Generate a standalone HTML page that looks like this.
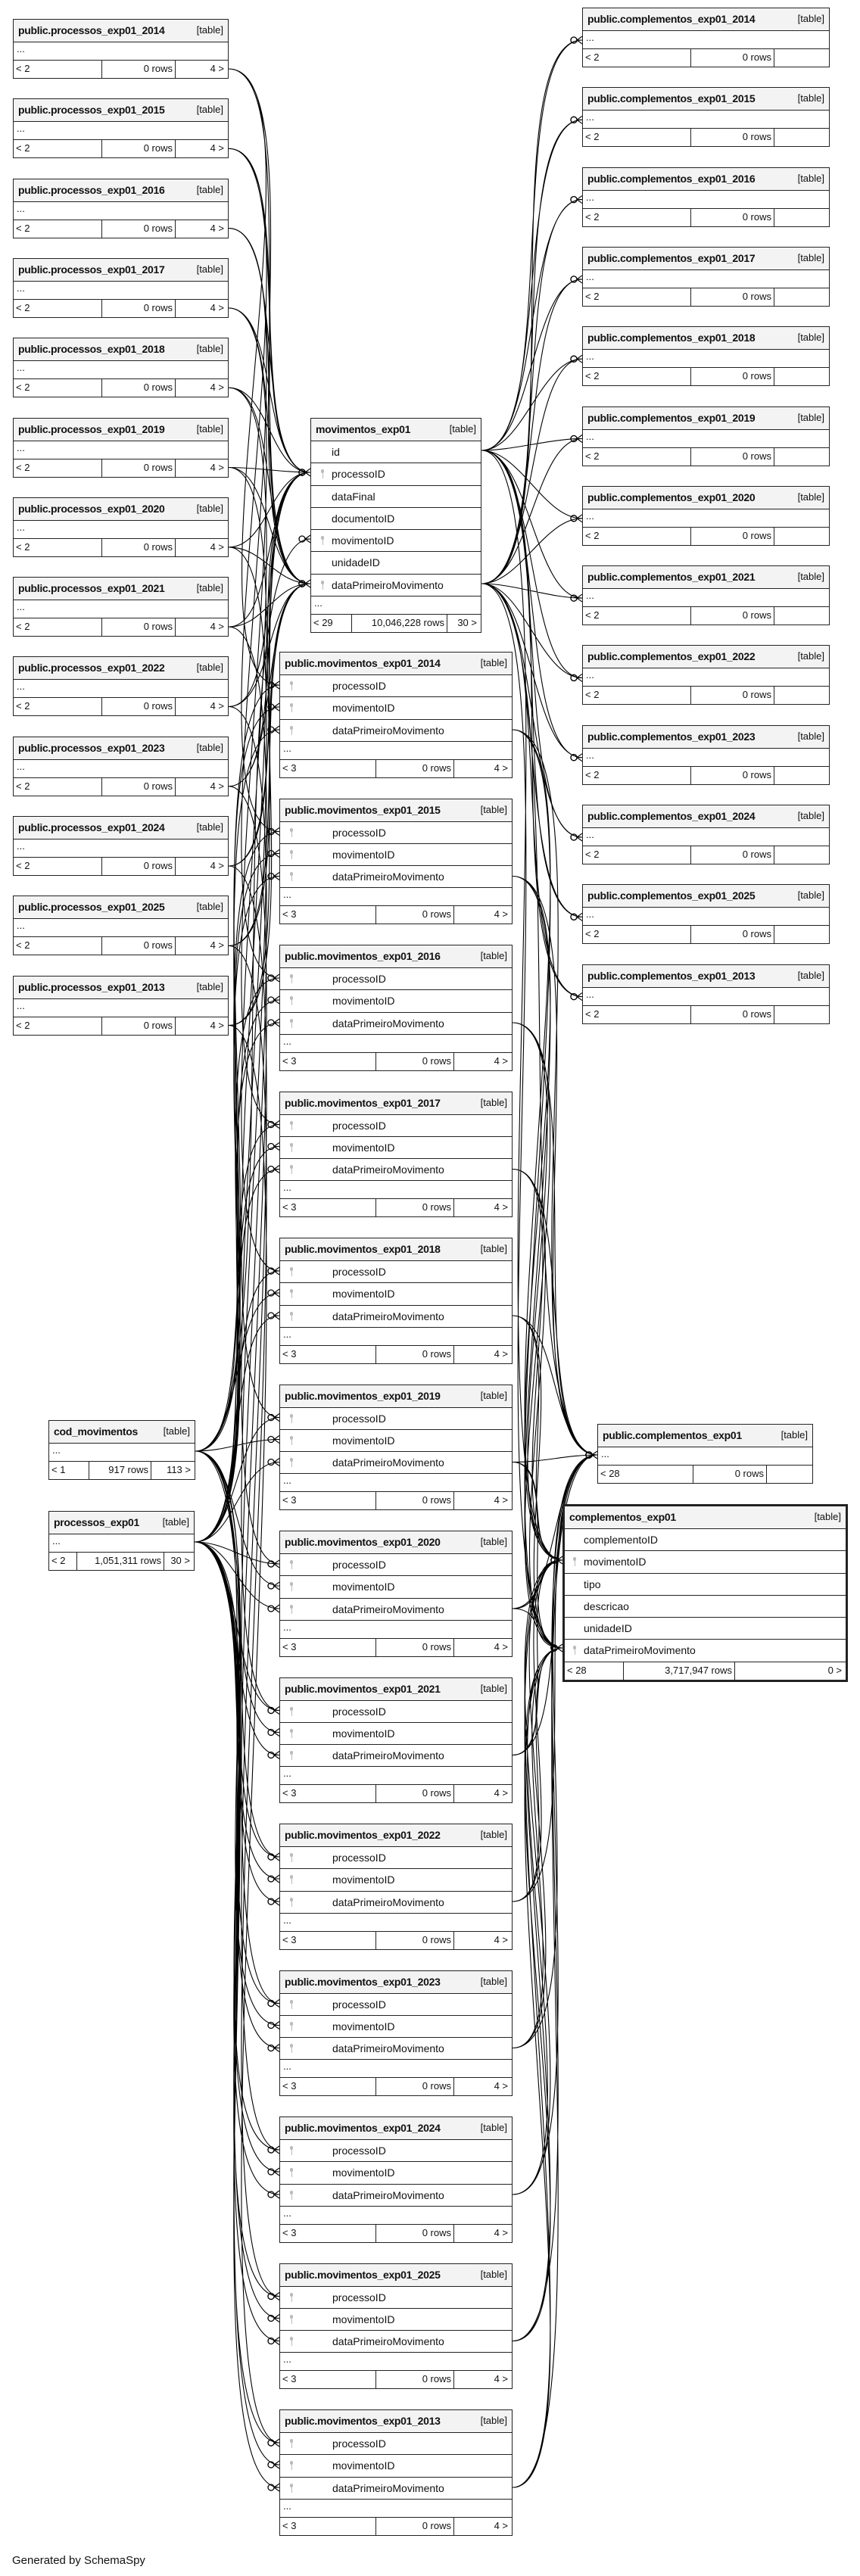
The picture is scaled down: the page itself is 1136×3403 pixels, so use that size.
<!DOCTYPE html>
<html><head><meta charset="utf-8">
<style>
html,body{margin:0;padding:0;background:#fff;}
body{width:1136px;height:3403px;position:relative;overflow:hidden;font-family:"Liberation Sans",sans-serif;color:#111;}
.t{position:absolute;border:1.5px solid #222;box-sizing:border-box;background:#fff;}
.t>div{position:relative;box-sizing:border-box;border-top:1.5px solid #222;white-space:nowrap;}
.t>div:first-child{border-top:none;}
.h{height:29px;background:#f3f3f3;font-size:14px;line-height:28px;padding-left:6px;}
.h b{letter-spacing:-0.3px}
.h span{position:absolute;right:6px;top:0;font-size:13px;}
.r{height:29.3px;font-size:14px;line-height:28px;}
.r span{position:absolute;top:0;}
.k{position:absolute;top:8px;width:4px;height:5px;border-radius:3px;background:#bbb;}
.k:after{content:"";position:absolute;left:1.5px;top:4px;width:1.5px;height:8px;background:#bbb;}
.d{height:24px;font-size:13px;line-height:18px;padding-left:4px;}
.f{height:24px;font-size:13px;line-height:22px;}
.f span{position:absolute;top:0;height:100%;box-sizing:border-box;}
.f .c1{left:3px;}
.f .c2{text-align:right;padding-right:3px;border-left:1.5px solid #222;}
.f .c3{text-align:right;padding-right:5px;border-left:1.5px solid #222;}
svg{position:absolute;left:0;top:0;}
.gen{position:absolute;left:16px;top:3374px;font-size:15px;}
</style></head><body>
<svg id="s" width="1136" height="3403"></svg>
<div id="c"></div>
<div class="gen">Generated by SchemaSpy</div>
<script>
var H='';
function T(x,y,w,title,rows,foot,o){
 o=o||{};
 var s='<div class="t" style="left:'+x+'px;top:'+y+'px;width:'+w+'px;'+(o.thick?'border-width:3px;':'')+'">';
 s+='<div class="h"><b>'+title+'</b><span>[table]</span></div>';
 rows.forEach(function(r){
  s+='<div class="r">'+(r.k?'<i class="k" style="left:'+o.kx+'px"></i>':'')+'<span style="left:'+o.ind+'px">'+r.n+'</span>'+(r.t?'<span style="left:'+o.tx+'px;border-left:1.5px solid #222;height:100%;padding-left:3px;left:'+(o.tx-4)+'px">'+r.t+'</span>':'')+'</div>';
 });
 if(o.dots!==false) s+='<div class="d">...</div>';
 var d1=foot[3]-x,d2=foot[4]-x;
 s+='<div class="f"><span class="c1">'+foot[0]+'</span><span class="c2" style="left:'+d1+'px;width:'+(d2-d1)+'px">'+foot[1]+'</span><span class="c3" style="left:'+d2+'px;right:0">'+foot[2]+'</span></div>';
 s+='</div>';
 H+=s;
}
var years=['2014','2015','2016','2017','2018','2019','2020','2021','2022','2023','2024','2025','2013'];
var P='';var paths=[];
function curve(sx,sy,tx,ty,left){
 var dy=Math.abs(ty-sy);var k=Math.min(140,40+dy*0.12);
 paths.push('M'+sx+','+sy+' C'+(sx+k)+','+sy+' '+(tx-k)+','+ty+' '+tx+','+ty);
 // crow's foot + circle
 paths.push('M'+(tx-7)+','+ty+' L'+tx+','+(ty-5)+' M'+(tx-7)+','+ty+' L'+tx+','+ty+' M'+(tx-7)+','+ty+' L'+tx+','+(ty+5));
 P+='<circle cx="'+(tx-11)+'" cy="'+ty+'" r="4" fill="#fff" stroke="#000" stroke-width="1.3"/>';
}
// left processos
years.forEach(function(y,i){
 var top=25+105.3*i;
 T(17,top,285,'public.processos_exp01_'+y,[],['&lt; 2','0 rows','4 &gt;',133,230]);
});
// complementos right
years.forEach(function(y,i){
 var top=10+105.3*i;
 T(769,top,327,'public.complementos_exp01_'+y,[],['&lt; 2','0 rows','',911,1021]);
});
// movimentos_exp01
T(410,552,226,'movimentos_exp01',[{n:'id'},{n:'processoID',k:1},{n:'dataFinal'},{n:'documentoID'},{n:'movimentoID',k:1},{n:'unidadeID'},{n:'dataPrimeiroMovimento',k:1}],['&lt; 29','10,046,228 rows','30 &gt;',463,589],{kx:13,ind:27});
// partitions
var prow=[{n:'processoID',k:1},{n:'movimentoID',k:1},{n:'dataPrimeiroMovimento',k:1}];
years.forEach(function(y,i){
 var top=861+193.5*i;
 T(369,top,308,'public.movimentos_exp01_'+y,prow,['&lt; 3','0 rows','4 &gt;',495,598],{kx:13,ind:69});
});
T(64,1876,194,'cod_movimentos',[],['&lt; 1','917 rows','113 &gt;',116,198]);
T(64,1996,193,'processos_exp01',[],['&lt; 2','1,051,311 rows','30 &gt;',100,215]);
T(789,1881,285,'public.complementos_exp01',[],['&lt; 28','0 rows','',914,1011]);
T(743,1987,377,'complementos_exp01',[{n:'complementoID',t:'bigserial[19]'},{n:'movimentoID',k:1,t:'int8[19]'},{n:'tipo',t:'varchar[2147483647]'},{n:'descricao',t:'varchar[2147483647]'},{n:'unidadeID',t:'int8[19]'},{n:'dataPrimeiroMovimento',k:1,t:'timestamp[29,6]'}],['&lt; 28','3,717,947 rows','0 &gt;',820,967],{kx:11,ind:25,tx:968,thick:1,dots:false});
document.getElementById('c').innerHTML=H;
// edges
years.forEach(function(y,i){
 var sy=25+105.3*i+66, pt=861+193.5*i;
 curve(302,sy,410,624);
 curve(302,sy,410,771);
 curve(302,sy,369,pt+44);
 var cy=10+105.3*i+43;
 curve(636,595,769,cy);
 curve(636,771,769,cy);
 curve(258,1917,369,pt+73);
 curve(257,2037,369,pt+44);
 curve(257,2037,369,pt+103);
 curve(677,pt+103,789,1922);
 curve(677,pt+103,743,2061);
 curve(677,pt+103,743,2177);
});
curve(258,1917,410,712);
curve(636,771,789,1922);
curve(636,771,743,2177);
curve(636,595,743,2061);
document.getElementById('s').innerHTML=P+'<path d="'+paths.join(' ')+'" fill="none" stroke="#000" stroke-width="1.1"/>';
</script>
</body></html>
